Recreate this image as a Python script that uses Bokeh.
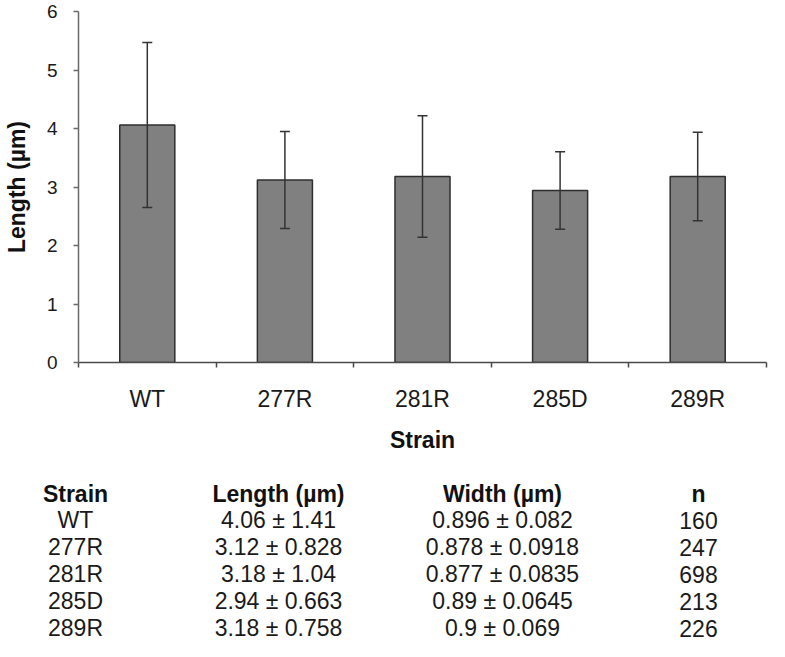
from bokeh.plotting import figure
from bokeh.models import (ColumnDataSource, Range1d, LinearAxis, FixedTicker, Whisker, TeeHead)
from bokeh.layouts import column
from bokeh.core.properties import value
from bokeh.embed import file_html
from bokeh.resources import INLINE

# ---------------- data ----------------
strains = ["WT", "277R", "281R", "285D", "289R"]
length_mean = [4.06, 3.12, 3.18, 2.94, 3.18]
length_sd = [1.41, 0.828, 1.04, 0.663, 0.758]
width_mean = [0.896, 0.878, 0.877, 0.89, 0.9]
width_sd = [0.082, 0.0918, 0.0835, 0.0645, 0.069]
n_cells = [160, 247, 698, 213, 226]
table_headers = ["Strain", "Length (µm)", "Width (µm)", "n"]
y_ticks = [0, 1, 2, 3, 4, 5, 6]

FONT_NAME = "Liberation Sans"
FONT = value(FONT_NAME)
W = 769
CHART_H = 463
TABLE_H = 641 - CHART_H

# category slot centres on a numeric axis: slot i spans [i, i+1]
centers = [i + 0.5 for i in range(len(strains))]
bounds = list(range(len(strains) + 1))

# ---------------- bar chart ----------------
src = ColumnDataSource(dict(
    x=centers,
    length=length_mean,
    upper=[m + s for m, s in zip(length_mean, length_sd)],
    lower=[m - s for m, s in zip(length_mean, length_sd)],
))

p = figure(width=W, height=CHART_H,
           x_range=Range1d(bounds[0], bounds[-1]),
           y_range=Range1d(y_ticks[0], y_ticks[-1]),
           x_axis_location=None,
           output_backend="svg", toolbar_location=None,
           min_border_left=66, min_border_right=3, min_border_top=11, min_border_bottom=101)
p.outline_line_color = None
p.grid.visible = False

p.vbar(x="x", top="length", width=0.40, source=src,
       fill_color="#808080", line_color="#2e2e2e", line_width=1.5)

wh = Whisker(base="x", upper="upper", lower="lower", source=src, level="overlay",
             line_color="#333333", line_width=1.5,
             upper_head=TeeHead(size=10, line_color="#333333", line_width=1.5),
             lower_head=TeeHead(size=10, line_color="#333333", line_width=1.5))
p.add_layout(wh)

# y axis
ya = p.yaxis[0]
ya.ticker = FixedTicker(ticks=y_ticks, minor_ticks=[])
ya.major_tick_out = 5
ya.major_tick_in = 0
ya.axis_line_color = "#6a6a6a"
ya.axis_line_width = 1.5
ya.major_tick_line_color = "#6a6a6a"
ya.major_tick_line_width = 1.5
ya.major_label_text_font = FONT_NAME
ya.major_label_text_font_size = "19px"
ya.major_label_text_color = "#1a1a1a"
ya.major_label_standoff = 16
ya.axis_label = "Length (µm)"
ya.axis_label_text_font = FONT_NAME
ya.axis_label_text_font_style = "bold"
ya.axis_label_text_font_size = "23px"
ya.axis_label_text_color = "#111111"
ya.axis_label_standoff = 14

# x axis: boundary ticks + category labels at slot centres
tick_axis = LinearAxis(ticker=FixedTicker(ticks=bounds, minor_ticks=[]),
                       major_label_overrides={b: "" for b in bounds},
                       major_label_text_font_size="1px", major_label_standoff=0,
                       major_tick_out=5, major_tick_in=0,
                       axis_line_color="#4a4a4a", axis_line_width=1.5,
                       major_tick_line_color="#4a4a4a", major_tick_line_width=1.5)
p.add_layout(tick_axis, "below")

cat_axis = LinearAxis(ticker=FixedTicker(ticks=centers, minor_ticks=[]),
                      major_label_overrides={c: s for c, s in zip(centers, strains)},
                      axis_line_color=None, major_tick_line_color=None,
                      major_tick_out=0, major_tick_in=0,
                      major_label_standoff=18,
                      major_label_text_font=FONT_NAME, major_label_text_font_size="23px",
                      major_label_text_color="#1a1a1a",
                      axis_label="Strain", axis_label_text_font=FONT_NAME,
                      axis_label_text_font_style="bold", axis_label_text_font_size="23px",
                      axis_label_text_color="#111111", axis_label_standoff=12)
p.add_layout(cat_axis, "below")

# ---------------- table ----------------
col_x = [75, 278, 502, 698]  # column centres (layout, px)
row_px = 26.9
top_off = 30
y_top = -top_off / row_px
y_bot = y_top + TABLE_H / row_px

t = figure(width=W, height=TABLE_H, x_range=Range1d(0, W), y_range=Range1d(y_bot, y_top),
           x_axis_location=None, y_axis_location=None,
           output_backend="svg", toolbar_location=None, min_border=0)
t.outline_line_color = None
t.grid.visible = False
for fig in (p, t):
    if "frame_align" in fig.properties():
        fig.frame_align = False

t.text(x=col_x, y=[0] * len(table_headers), text=table_headers,
       text_font=FONT, text_font_style="bold", text_font_size="23px",
       text_align="center", text_baseline="middle", text_color="#111111")

rows = list(range(1, len(strains) + 1))
length_txt = [f"{m} ± {s}" for m, s in zip(length_mean, length_sd)]
width_txt = [f"{m} ± {s}" for m, s in zip(width_mean, width_sd)]
n_txt = [str(n) for n in n_cells]
for cx, texts in zip(col_x, [strains, length_txt, width_txt, n_txt]):
    t.text(x=[cx] * len(texts), y=rows, text=texts,
           text_font=FONT, text_font_size="23px",
           text_align="center", text_baseline="middle", text_color="#1a1a1a")

layout = column(p, t, spacing=0)
open("out.html", "w").write(file_html(layout, INLINE))
